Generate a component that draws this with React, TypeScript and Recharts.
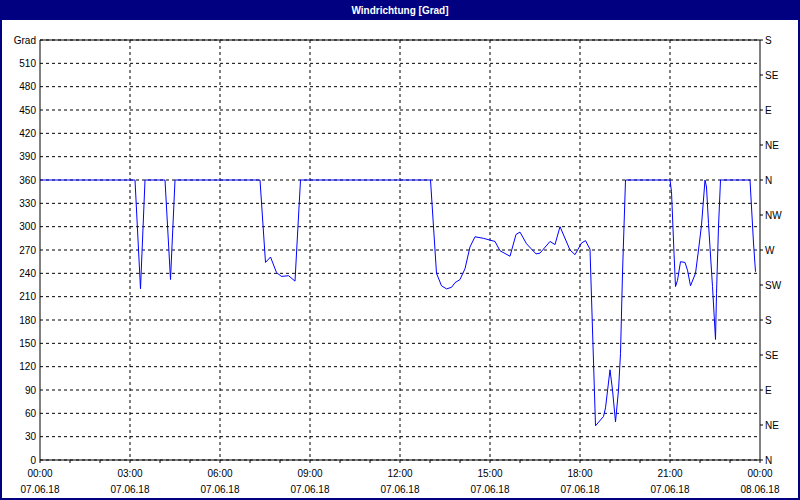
import { LineChart, Line, XAxis, YAxis, CartesianGrid, ReferenceLine } from 'recharts';

// minutes since 07.06.18 00:00 and wind direction in degrees
const minutes = [
  0, 190, 201, 210, 250, 261, 270, 440, 451, 461, 473, 483, 497, 510, 521,
  781, 793, 803, 813, 823, 830, 840, 850, 860, 870, 887, 910, 920, 940, 952,
  960, 973, 992, 1000, 1020, 1030, 1040, 1060, 1070, 1083, 1091, 1100, 1111,
  1127, 1131, 1140, 1145, 1151, 1157, 1161, 1165, 1171, 1260, 1263, 1268, 1271,
  1275, 1281, 1290, 1295, 1301, 1311, 1317, 1323, 1330, 1333, 1337, 1345, 1351,
  1353, 1357, 1361, 1420, 1427, 1431,
];
const grad = [
  360, 360, 220, 360, 360, 232, 360, 360, 254, 261, 241, 236, 237, 230, 360,
  360, 240, 224, 220, 222, 228, 232, 246, 274, 287, 285, 281, 269, 262, 290,
  293, 278, 265, 266, 281, 277, 300, 270, 264, 279, 282, 271, 44,
  56, 67, 116, 90, 49, 90, 137, 240, 360, 360, 345, 266, 223,
  231, 255, 254, 244, 224, 240, 270, 302, 360, 351, 304, 223, 155,
  214, 300, 360, 360, 279, 242,
];

const leftTicks = [0, 30, 60, 90, 120, 150, 180, 210, 240, 270, 300, 330, 360, 390, 420, 450, 480, 510, 540];
const rightTicks = [0, 45, 90, 135, 180, 225, 270, 315, 360, 405, 450, 495, 540];
const directions = ['N', 'NE', 'E', 'SE', 'S', 'SW', 'W', 'NW', 'N', 'NE', 'E', 'SE', 'S'];
const hourTicks = [0, 60, 120, 180, 240, 300, 360, 420, 480, 540, 600, 660, 720, 780, 840, 900, 960, 1020, 1080, 1140, 1200, 1260, 1320, 1380, 1440];
const gridTimes = [180, 360, 540, 720, 900, 1080, 1260];
const dates = ['07.06.18', '08.06.18'];

const data = minutes.map((t, i) => ({ t, grad: grad[i] }));

const font = "'Liberation Sans', Arial, sans-serif";

function TimeTick(props: any) {
  const { x, payload } = props;
  const v = payload.value;
  if (v % 180 !== 0) return <g />;
  const hh = String(Math.floor(v / 60) % 24).padStart(2, '0');
  const date = v >= 1440 ? dates[1] : dates[0];
  return (
    <g fontFamily={font} fontSize={10} fill="#000">
      <text x={x} y={477} textAnchor="middle">{hh + ':00'}</text>
      <text x={x} y={493} textAnchor="middle">{date}</text>
    </g>
  );
}

export default function App() {
  return (
    <div style={{ position: 'absolute', left: 0, top: 0, width: 800, height: 500, background: '#fff' }}>
      <LineChart width={800} height={500} data={data} margin={{ top: 40, right: 0, left: 0, bottom: 10 }}>
        <CartesianGrid yAxisId="l" stroke="#000" strokeDasharray="3 3" verticalValues={gridTimes} />
        <XAxis
          dataKey="t"
          type="number"
          domain={[0, 1440]}
          ticks={hourTicks}
          interval={0}
          height={30}
          tickSize={3}
          axisLine={{ stroke: '#000' }}
          tickLine={{ stroke: '#000' }}
          tick={<TimeTick />}
        />
        <YAxis
          yAxisId="l"
          domain={[0, 540]}
          ticks={leftTicks}
          interval={0}
          width={40}
          tickSize={0}
          tickMargin={4}
          allowDataOverflow
          axisLine={{ stroke: '#000' }}
          tickLine={false}
          tickFormatter={(v: number) => (v === 540 ? 'Grad' : String(v))}
          tick={{ fill: '#000', fontSize: 10, fontFamily: font }}
        />
        <YAxis
          yAxisId="r"
          orientation="right"
          domain={[0, 540]}
          ticks={rightTicks}
          interval={0}
          width={40}
          tickSize={3}
          tickMargin={2}
          allowDataOverflow
          axisLine={{ stroke: '#000' }}
          tickLine={{ stroke: '#000' }}
          tickFormatter={(v: number) => directions[Math.round(v / 45)]}
          tick={{ fill: '#000', fontSize: 10, fontFamily: font }}
        />
        <ReferenceLine yAxisId="l" y={540} stroke="#000" />
        <Line
          yAxisId="r"
          dataKey="grad"
          type="linear"
          stroke="none"
          dot={false}
          isAnimationActive={false}
        />
        <Line
          yAxisId="l"
          dataKey="grad"
          type="linear"
          stroke="#0000ff"
          strokeWidth={1}
          dot={false}
          isAnimationActive={false}
        />
      </LineChart>
      <div
        style={{
          position: 'absolute',
          left: 0,
          top: 0,
          width: 800,
          height: 500,
          boxSizing: 'border-box',
          border: '2px solid #000080',
          pointerEvents: 'none',
        }}
      >
        <div
          style={{
            background: '#000080',
            color: '#fff',
            height: 18,
            lineHeight: '17px',
            textAlign: 'center',
            fontFamily: font,
            fontWeight: 'bold',
            fontSize: 10,
          }}
        >
          Windrichtung [Grad]
        </div>
      </div>
    </div>
  );
}
